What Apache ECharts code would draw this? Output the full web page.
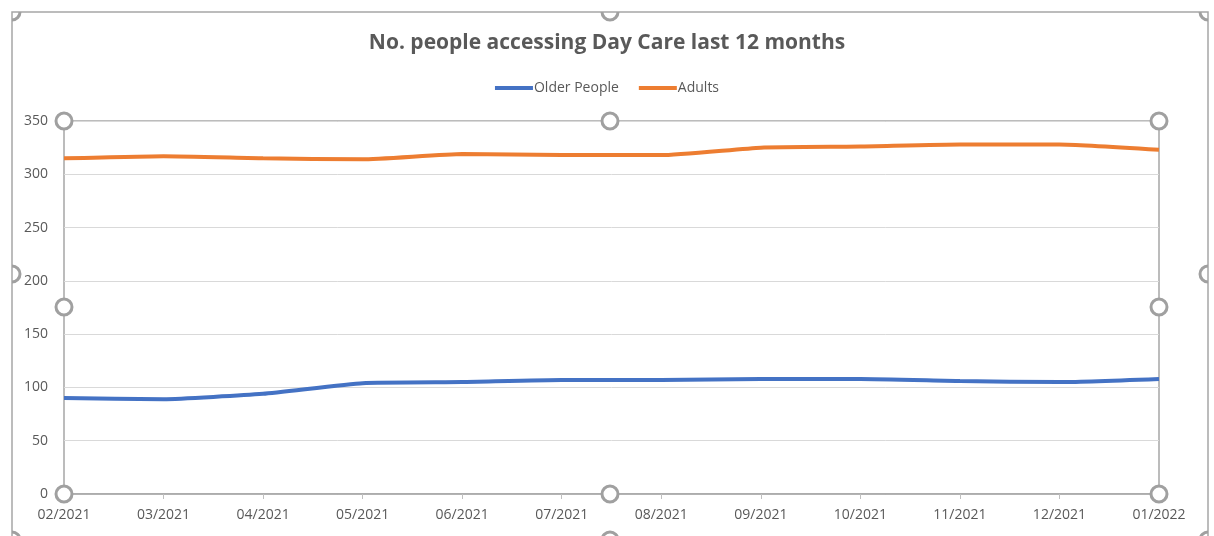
<!DOCTYPE html>
<html>
<head>
<meta charset="utf-8">
<title>No. people accessing Day Care last 12 months</title>
<script src="https://cdn.jsdelivr.net/npm/echarts@6/dist/echarts.min.js"></script>
<style>
  html, body { margin: 0; padding: 0; background: #fff; }
  #chart { width: 1214px; height: 536px; }
</style>
</head>
<body>
<div id="chart"></div>
<script>
// data
const months = ['02/2021', '03/2021', '04/2021', '05/2021', '06/2021', '07/2021',
  '08/2021', '09/2021', '10/2021', '11/2021', '12/2021', '01/2022']
const olderPeople = [90, 89, 94, 104, 105, 107, 107, 108, 108, 106, 105, 108]
const adults = [315, 317, 315, 314, 319, 318, 318, 325, 326, 328, 328, 323]

const textColor = '#595959'
const font = 'Open Sans'
const handleColor = '#a0a0a0'

// excel style selection handles (decoration only)
// outer frame handles get clipped by the sheet, so only part of them shows
const PI = Math.PI
const frameHandles = [
  [12, 12, 0, PI / 2], [610, 12, 0, PI], [1208, 12, PI / 2, PI],
  [12, 274, -PI / 2, PI / 2], [1208, 274, PI / 2, 3 * PI / 2],
  [12, 540, -PI / 2, 0], [610, 540, PI, 2 * PI], [1208, 540, PI, 3 * PI / 2]
]
const plotHandles = [
  [64, 121], [610, 121], [1159, 121], [64, 307], [1159, 307], [64, 494], [610, 494], [1159, 494]
]

const chart = echarts.init(document.getElementById('chart'))

const option = {
  backgroundColor: '#fff',
  animation: false,
  textStyle: { fontFamily: font, color: textColor },
  title: {
    text: 'No. people accessing Day Care last 12 months',
    left: 'center',
    top: 28,
    textStyle: { fontFamily: font, fontSize: 21, fontWeight: 'bold', color: textColor }
  },
  legend: {
    top: 76,
    left: 'center',
    itemWidth: 38,
    itemHeight: 4,
    itemGap: 20,
    icon: 'rect',
    textStyle: { fontFamily: font, fontSize: 14, color: textColor, padding: [0, 0, 0, -4] },
    data: ['Older People', 'Adults']
  },
  grid: {
    left: 64,
    right: 55,
    top: 121,
    bottom: 42,
    show: true,
    borderColor: '#a6a6a6',
    borderWidth: 1.5
  },
  xAxis: {
    type: 'category',
    data: months,
    boundaryGap: false,
    axisLine: { lineStyle: { color: '#a6a6a6', width: 1.5 } },
    axisTick: { show: true, alignWithLabel: true, length: 5, lineStyle: { color: '#bfbfbf' } },
    axisLabel: { color: textColor, fontSize: 14, margin: 14, fontFamily: font }
  },
  yAxis: {
    type: 'value',
    min: 0,
    max: 350,
    interval: 50,
    axisLine: { show: false },
    axisTick: { show: false },
    axisLabel: { color: textColor, fontSize: 14, margin: 16, fontFamily: font },
    splitLine: { lineStyle: { color: '#d9d9d9', width: 1 } }
  },
  series: [
    {
      name: 'Older People',
      type: 'line',
      data: olderPeople,
      smooth: 0.15,
      showSymbol: false,
      color: '#4472C4',
      lineStyle: { width: 4, color: '#4472C4' }
    },
    {
      name: 'Adults',
      type: 'line',
      data: adults,
      smooth: 0.15,
      showSymbol: false,
      color: '#ED7D31',
      lineStyle: { width: 4, color: '#ED7D31' }
    }
  ],
  graphic: [
    {
      type: 'rect',
      shape: { x: 12, y: 12, width: 1196, height: 540 },
      style: { fill: 'none', stroke: '#a6a6a6', lineWidth: 1.5 },
      z: 90
    }
  ].concat(frameHandles.map(p => ({
    type: 'arc',
    shape: { cx: p[0], cy: p[1], r: 8, startAngle: p[2], endAngle: p[3], clockwise: true },
    style: { fill: 'none', stroke: handleColor, lineWidth: 3 },
    z: 100
  }))).concat(plotHandles.map(p => ({
    type: 'circle',
    shape: { cx: p[0], cy: p[1], r: 8 },
    style: { fill: '#fff', stroke: handleColor, lineWidth: 3 },
    z: 100
  })))
}

chart.setOption(option)
</script>
</body>
</html>
